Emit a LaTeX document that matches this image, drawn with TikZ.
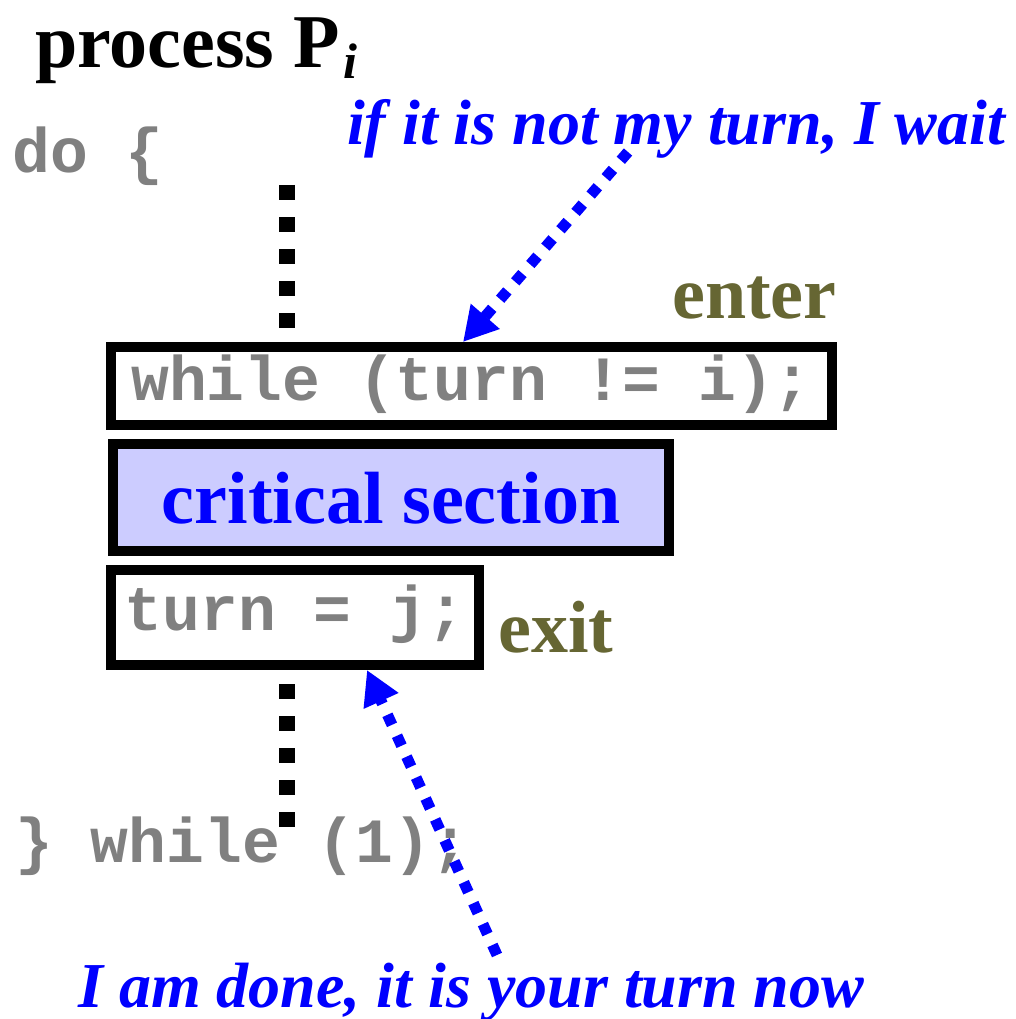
\documentclass[tikz,border=0pt]{standalone}
\usepackage{fontspec}
\setmainfont{Liberation Serif}
\setmonofont{Liberation Mono}
\usetikzlibrary{arrows.meta,calc}
\definecolor{noteblue}{RGB}{0,0,255}
\definecolor{olivetxt}{RGB}{102,102,51}
\definecolor{lavfill}{RGB}{204,204,255}
\definecolor{codegray}{RGB}{128,128,128}
\begin{document}
\begin{tikzpicture}[x=1pt,y=-1pt,
  codebox/.style={draw=black, line width=10pt, fill=white, inner sep=0pt,
    text=codegray, font=\fontsize{63}{63}\selectfont\ttfamily\bfseries},
  critbox/.style={draw=black, line width=10pt, fill=lavfill, inner sep=0pt,
    text=noteblue, font=\fontsize{74}{74}\selectfont\bfseries},
  codetxt/.style={anchor=base west, inner sep=0pt, text=codegray,
    font=\fontsize{63}{63}\selectfont\ttfamily\bfseries},
  steplabel/.style={anchor=base west, inner sep=0pt, text=olivetxt,
    font=\fontsize{74}{74}\selectfont\bfseries},
  notetxt/.style={anchor=base west, inner sep=0pt, text=noteblue,
    font=\fontsize{64}{64}\selectfont\bfseries\itshape},
  flowdots/.style={draw=black, line width=16pt, dash pattern=on 15pt off 17pt},
  notearrow/.style={draw=noteblue, line width=11pt, dash pattern=on 11pt off 12pt,
    -{Triangle[length=34pt,width=36pt]}}
]
\useasboundingbox (0,0) rectangle (1016,1019);

\node[anchor=base west, inner sep=0pt, font=\fontsize{76}{76}\selectfont\bfseries]
  (title) at (35,68) {process P\hspace{4pt}\raisebox{-11pt}{\fontsize{50}{50}\selectfont\itshape i}};

\node[codetxt] (doopen) at (12,172) {do \{};
\node[codetxt] (doclose) at (15,862) {\} while (1);};

\node[codebox, minimum width=721pt, minimum height=78pt, text height=40pt, text depth=12pt]
  (wbox) at (471.5,386) {while (turn != i);};
\node[critbox, minimum width=556pt, minimum height=107pt, text height=51pt, text depth=0pt]
  (crit) at (391,497.5) {critical section};
\node[codebox, minimum width=368pt, minimum height=95pt, text height=40pt, text depth=15pt]
  (tbox) at (295,617.5) {turn = j;};

\node[steplabel] (enter) at (672,318) {enter};
\node[steplabel] (exit) at (498,652) {exit};

\node[notetxt] (note1) at (347,145) {if it is not my turn, I wait};
\node[notetxt] (note2) at (78,1007) {I am done, it is your turn now};

\coordinate (dtop) at (287,185);
\coordinate (dbot) at (287,827);
\draw[flowdots, shorten >=14pt] (dtop) -- (wbox.north -| dtop);
\draw[flowdots, shorten <=14pt] (tbox.south -| dbot) -- (dbot);

\coordinate (s1) at (628,152);
\coordinate (e1) at (463,0);
\coordinate (s2) at (497,955);
\coordinate (e2) at (367,0);
\draw[notearrow] (s1) -- (wbox.north -| e1);
\draw[notearrow] (s2) -- (tbox.south -| e2);
\end{tikzpicture}
\end{document}
